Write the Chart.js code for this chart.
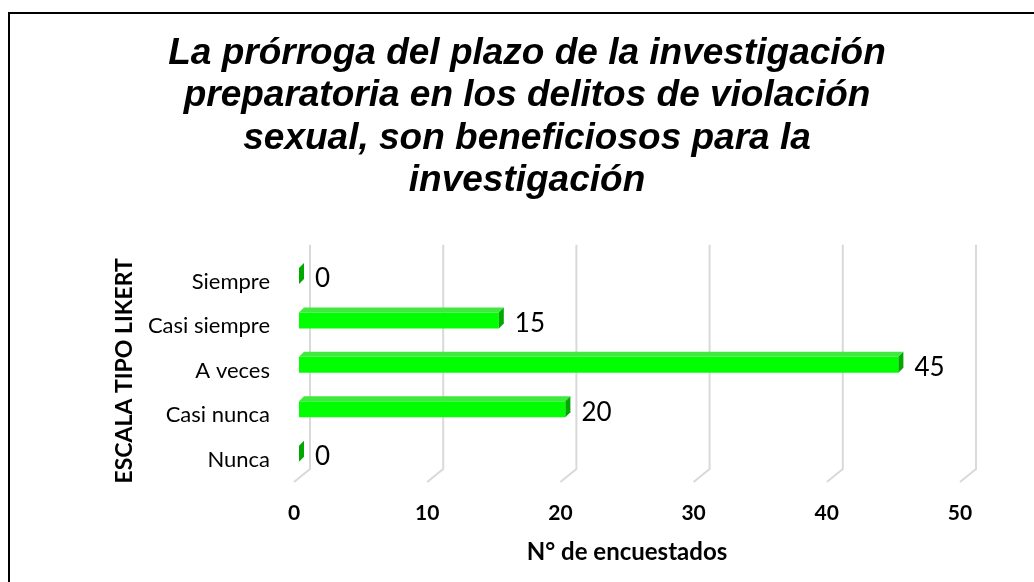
<!DOCTYPE html>
<html>
<head>
<meta charset="utf-8">
<script src="https://cdn.jsdelivr.net/npm/chart.js@4/dist/chart.umd.min.js"></script>
<style>
  html, body { margin: 0; padding: 0; background: #fff; overflow: hidden; }
  #frame { position: absolute; left: 8px; top: 12px; width: 1100px; height: 700px; border: 2px solid #000; }
  #wrap { position: absolute; left: 0; top: 0; width: 1034px; height: 582px; }
</style>
</head>
<body>
<div id="frame"></div>
<div id="wrap"><canvas id="chart" width="1034" height="582"></canvas></div>
<script>
const categories = ["Siempre", "Casi siempre", "A veces", "Casi nunca", "Nunca"];
const respondents = [0, 15, 45, 20, 0];
const xTicks = [0, 10, 20, 30, 40, 50];

const titleLines = [
  "La prórroga del plazo de la investigación",
  "preparatoria en los delitos de violación",
  "sexual, son beneficiosos para la",
  "investigación"
];

// 3D look: the bars sit a bit behind the front plane, the grid wall further back
const shift = { x: 5, y: -6 };
const depth = 5;

const bars3d = {
  id: "bars3d",
  beforeDatasetsDraw(chart) {
    const { ctx, chartArea } = chart;
    const xs = chart.scales.x;
    ctx.save();
    ctx.strokeStyle = "#d9d9d9";
    ctx.lineWidth = 2;
    xTicks.forEach(v => {
      const px = xs.getPixelForValue(v);
      ctx.beginPath();
      ctx.moveTo(px + 16, chartArea.top - 15);
      ctx.lineTo(px + 16, chartArea.bottom - 13);
      ctx.lineTo(px, chartArea.bottom);
      ctx.stroke();
    });
    ctx.restore();
    ctx.save();
    ctx.translate(shift.x, shift.y);
  },
  afterDatasetsDraw(chart) {
    const { ctx } = chart;
    const meta = chart.getDatasetMeta(0);
    meta.data.forEach(el => {
      const p = el.getProps(["x", "y", "base", "height"], true);
      const yT = p.y - p.height / 2;
      const yB = p.y + p.height / 2;
      ctx.fillStyle = "#40e840";
      ctx.beginPath();
      ctx.moveTo(p.base, yT);
      ctx.lineTo(p.x, yT);
      ctx.lineTo(p.x + depth, yT - depth);
      ctx.lineTo(p.base + depth, yT - depth);
      ctx.closePath();
      ctx.fill();
      ctx.fillStyle = "#00a800";
      ctx.beginPath();
      ctx.moveTo(p.x, yT);
      ctx.lineTo(p.x + depth, yT - depth);
      ctx.lineTo(p.x + depth, yB - depth);
      ctx.lineTo(p.x, yB);
      ctx.closePath();
      ctx.fill();
    });
    ctx.restore();

    // value labels
    ctx.save();
    ctx.fillStyle = "#000";
    ctx.font = "26px Lato";
    ctx.textAlign = "left";
    ctx.textBaseline = "middle";
    meta.data.forEach((el, i) => {
      ctx.fillText(String(respondents[i]), el.x + 21, el.y - 3);
    });
    ctx.restore();
  }
};

new Chart(document.getElementById("chart"), {
  type: "bar",
  data: {
    labels: categories,
    datasets: [{
      label: "N° de encuestados",
      data: respondents,
      backgroundColor: "#00ff00",
      borderWidth: 0,
      categoryPercentage: 1,
      barPercentage: 0.36
    }]
  },
  options: {
    indexAxis: "y",
    responsive: false,
    animation: false,
    layout: { padding: { left: 94, right: 74, top: 0, bottom: 0 } },
    plugins: {
      legend: { display: false },
      tooltip: { enabled: false },
      title: {
        display: true,
        text: titleLines,
        color: "#000",
        font: { family: "Liberation Sans", size: 37, weight: "bold", style: "italic", lineHeight: 1.14 },
        padding: { top: 33, bottom: 58 }
      }
    },
    scales: {
      x: {
        min: 0,
        max: 50,
        afterFit: s => { s.height = 100; },
        ticks: {
          stepSize: 10,
          padding: 19,
          color: "#000",
          font: { family: "Lato", size: 21, weight: "bold" }
        },
        grid: { display: false, drawTicks: false },
        border: { display: false },
        title: {
          display: true,
          text: "N° de encuestados",
          color: "#000",
          font: { family: "Lato", size: 24, weight: "bold" },
          padding: { top: 0, bottom: 15 }
        }
      },
      y: {
        afterFit: s => { s.width = 200; },
        ticks: {
          padding: 24,
          color: "#000",
          font: { family: "Lato", size: 22 }
        },
        grid: { display: false, drawTicks: false },
        border: { display: false },
        title: {
          display: true,
          text: "ESCALA TIPO LIKERT",
          color: "#000",
          font: { family: "Lato", size: 23, weight: "bold" },
          padding: { top: 17, bottom: 0 }
        }
      }
    }
  },
  plugins: [bars3d]
});
</script>
</body>
</html>
